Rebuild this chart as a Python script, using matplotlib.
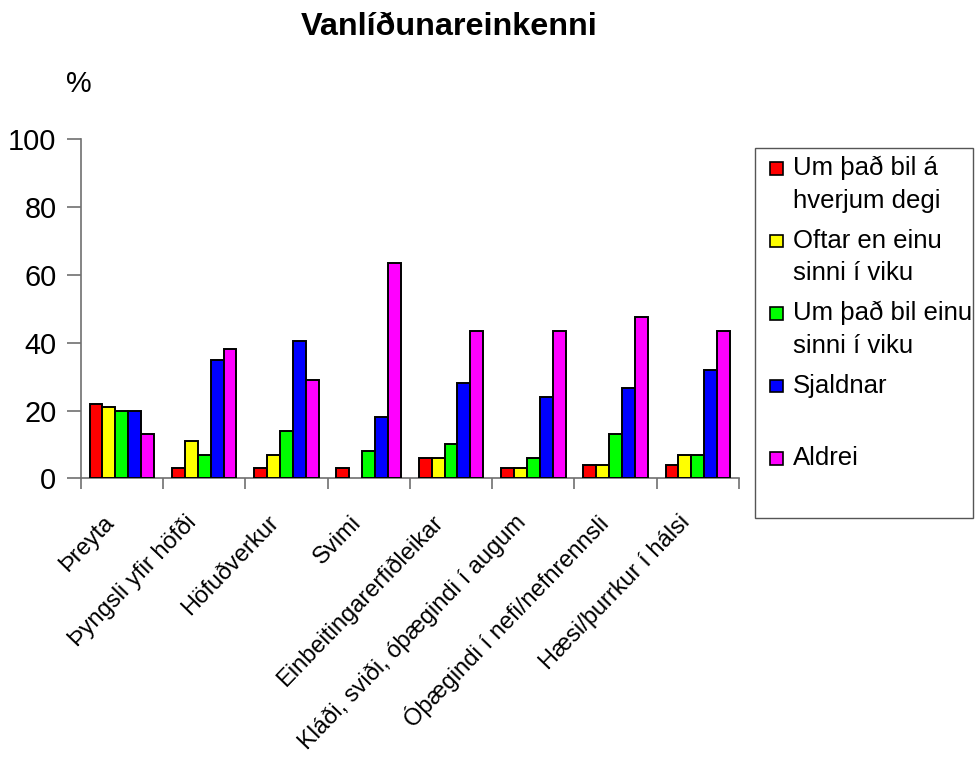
import matplotlib
matplotlib.use("Agg")
import matplotlib.pyplot as plt
from matplotlib.patches import Rectangle
from matplotlib.transforms import ScaledTranslation
import numpy as np

plt.rcParams['font.family'] = ['Liberation Sans', 'DejaVu Sans']

categories = ["Þreyta", "Þyngsli yfir höfði", "Höfuðverkur", "Svimi",
              "Einbeitingarerfiðleikar", "Kláði, sviði, óþægindi í augum",
              "Óþægindi í nefi/nefnrennsli", "Hæsi/þurrkur í hálsi"]
series_labels = ["Um það bil á\nhverjum degi", "Oftar en einu\nsinni í viku",
                 "Um það bil einu\nsinni í viku", "Sjaldnar", "Aldrei"]
daily = [22, 3, 3, 3, 6, 3, 4, 4]
more_than_weekly = [21, 11, 7, 0, 6, 3, 4, 7]
weekly = [20, 7, 14, 8, 10, 6, 13, 7]
seldom = [20, 35, 40.5, 18, 28, 24, 26.5, 32]
never = [13, 38, 29, 63.5, 43.5, 43.5, 47.5, 43.5]
series = [daily, more_than_weekly, weekly, seldom, never]
colors = ["#FF0000", "#FFFF00", "#00FF00", "#0000FF", "#FF00FF"]
yticks = [0, 20, 40, 60, 80, 100]

W, H = 975, 764
fig = plt.figure(figsize=(W / 100, H / 100), dpi=100)

def fx(px):
    return px / W

def fy(py):
    return 1 - py / H

ax = fig.add_axes([fx(80.7), fy(478.3), fx(739) - fx(80.7), fy(139.3) - fy(478.3)])

n = len(series)
group_w = 0.785
bw = group_w / n
x = np.arange(len(categories)) + 0.5
for i, (vals, c) in enumerate(zip(series, colors)):
    bars = ax.bar(x - group_w / 2 + bw * (i + 0.5), vals, width=bw, color=c,
                  edgecolor="black", linewidth=1.4, zorder=3)
    for b in bars:
        if b.get_height() == 0:
            b.set_visible(False)

ax.set_xlim(0, len(categories))
ax.set_ylim(0, 100)
ax.set_yticks(yticks)
ax.set_yticklabels([str(t) for t in yticks], fontsize=20.8)

axis_col = "#707070"
ax.set_xticks(np.arange(len(categories) + 1))
ax.set_xticklabels([])
ax.tick_params(axis='x', which='major', length=8, width=1.2, color=axis_col, direction='out')
ax.tick_params(axis='y', length=10, width=1.2, color=axis_col, direction='out', pad=7.5)

lab_tr = ax.get_xaxis_transform() + ScaledTranslation(-11 / 100, -41 / 100, fig.dpi_scale_trans)
for xi, cat in zip(x, categories):
    ax.text(xi, 0, cat, transform=lab_tr, rotation=46, ha='right', va='center',
            rotation_mode='anchor', fontsize=17)

for s in ['top', 'right']:
    ax.spines[s].set_visible(False)
for s in ['left', 'bottom']:
    ax.spines[s].set_color(axis_col)
    ax.spines[s].set_linewidth(1.2)

fig.text(fx(449.5), fy(27), "Vanlíðunareinkenni", ha='center', va='center',
         fontsize=23.3, fontweight='bold')
fig.text(fx(79), fy(84), "%", ha='center', va='center', fontsize=20.8)

# legend
fig.add_artist(Rectangle((fx(755), fy(518)), fx(973) - fx(755), fy(148) - fy(518),
                         transform=fig.transFigure, facecolor='white',
                         edgecolor='#555555', linewidth=1.0))
first_line_y = [168, 240.5, 313, 385.5, 458]
line_gap = 33
for lab, c, y0 in zip(series_labels, colors, first_line_y):
    fig.add_artist(Rectangle((fx(770), fy(y0 + 6.5)), fx(12.5), fx(12.5) * W / H,
                             transform=fig.transFigure, facecolor=c,
                             edgecolor='black', linewidth=1.2))
    for k, line in enumerate(lab.split("\n")):
        fig.text(fx(793), fy(y0 + k * line_gap), line, ha='left', va='center',
                 fontsize=18.5)

fig.savefig("out.png", dpi=100)
